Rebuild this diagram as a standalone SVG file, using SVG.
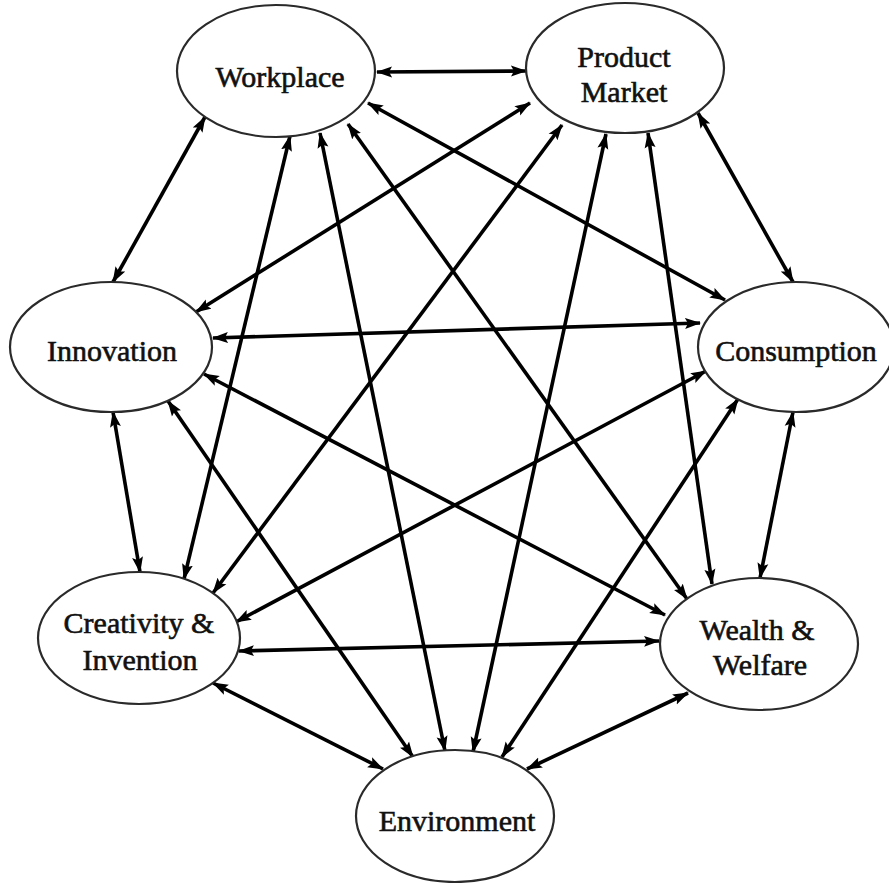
<svg xmlns="http://www.w3.org/2000/svg" width="889" height="883" viewBox="0 0 889 883">
<style>
.node ellipse{fill:#fff;stroke:#2a2a2a;stroke-width:2.2}
.node text{font-family:"Liberation Serif","Times New Roman",serif;font-size:30px;fill:#111;stroke:#111;stroke-width:0.6;text-anchor:middle}
.edges line{stroke:#000;stroke-width:3.6;marker-start:url(#ah);marker-end:url(#ah)}
</style>
<defs>
<marker id="ah" markerUnits="userSpaceOnUse" markerWidth="16" markerHeight="12" refX="15" refY="6" orient="auto-start-reverse">
<path d="M0,0.5 L16,6 L0,11.5 L3,6 z" fill="#000"/>
</marker>
</defs>
<rect width="889" height="883" fill="#fff"/>
<g class="edges" id="connectors">
<line x1="377" y1="72" x2="526" y2="71"/>
<line x1="205" y1="117" x2="113" y2="282"/>
<line x1="290" y1="136" x2="184" y2="579"/>
<line x1="320" y1="133" x2="445" y2="751"/>
<line x1="348" y1="124" x2="687" y2="599"/>
<line x1="368" y1="103" x2="725" y2="300"/>
<line x1="530" y1="103" x2="196" y2="312"/>
<line x1="562" y1="125" x2="213" y2="593"/>
<line x1="606" y1="134" x2="473" y2="752"/>
<line x1="648" y1="133" x2="712" y2="584"/>
<line x1="698" y1="113" x2="793" y2="282"/>
<line x1="213" y1="338" x2="700" y2="323"/>
<line x1="113" y1="412" x2="140" y2="572"/>
<line x1="204" y1="374" x2="665" y2="615"/>
<line x1="168" y1="401" x2="413" y2="757"/>
<line x1="706" y1="371" x2="236" y2="622"/>
<line x1="738" y1="399" x2="502" y2="757"/>
<line x1="793" y1="412" x2="760" y2="578"/>
<line x1="239" y1="651" x2="659" y2="641"/>
<line x1="213" y1="683" x2="383" y2="769"/>
<line x1="688" y1="693" x2="527" y2="769"/>
</g>
<g class="node" id="workplace"><ellipse cx="276" cy="71" rx="99" ry="66"/><text x="280" y="87">Workplace</text></g>
<g class="node" id="product-market"><ellipse cx="625" cy="68" rx="99" ry="65"/><text x="624" y="67">Product</text><text x="624" y="102">Market</text></g>
<g class="node" id="innovation"><ellipse cx="111" cy="347" rx="101" ry="65"/><text x="112" y="361">Innovation</text></g>
<g class="node" id="consumption"><ellipse cx="796" cy="347" rx="98" ry="65"/><text x="796" y="361">Consumption</text></g>
<g class="node" id="creativity"><ellipse cx="139" cy="638" rx="101" ry="66"/><text x="139" y="633">Creativity &amp;</text><text x="140" y="670">Invention</text></g>
<g class="node" id="wealth"><ellipse cx="759" cy="644" rx="99" ry="66"/><text x="757" y="640">Wealth &amp;</text><text x="760" y="675">Welfare</text></g>
<g class="node" id="environment"><ellipse cx="455" cy="816" rx="99" ry="66"/><text x="457" y="831">Environment</text></g>
</svg>
